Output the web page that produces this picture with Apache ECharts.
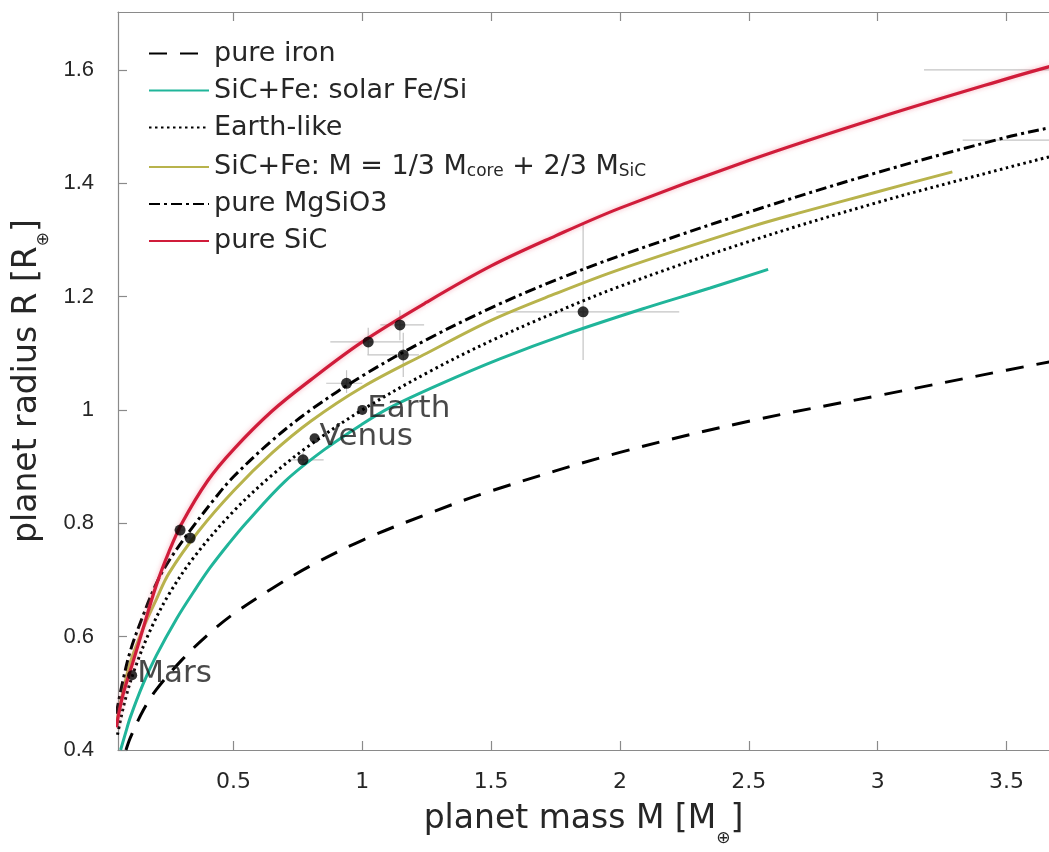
<!DOCTYPE html>
<html>
<head>
<meta charset="utf-8">
<script src="https://cdn.jsdelivr.net/npm/echarts@6/dist/echarts.min.js"></script>
<style>
html,body{margin:0;padding:0;background:#fff;}
#chart{width:1049px;height:852px;}
</style>
</head>
<body>
<div id="chart"></div>
<script>
// ---- data ----
const xTickValues = [0.5, 1, 1.5, 2, 2.5, 3, 3.5];
const yTickValues = [0.4, 0.6, 0.8, 1.0, 1.2, 1.4, 1.6];

const ironMass   = [0.083, 0.1, 0.15, 0.2, 0.3, 0.4, 0.5, 0.65, 0.8, 1.0, 1.25, 1.5, 2.0, 2.5, 3.0, 3.5, 3.67];
const ironRadius = [0.40, 0.422, 0.47, 0.506, 0.559, 0.603, 0.64, 0.685, 0.725, 0.77, 0.816, 0.857, 0.925, 0.98, 1.025, 1.07, 1.085];

const solarMass   = [0.062, 0.08, 0.1, 0.15, 0.2, 0.28, 0.35, 0.41, 0.48, 0.55, 0.7, 0.85, 1.0, 1.107, 1.3, 1.534, 1.8, 2.1, 2.35, 2.575];
const solarRadius = [0.40, 0.428, 0.458, 0.517, 0.566, 0.632, 0.682, 0.722, 0.763, 0.801, 0.874, 0.929, 0.975, 1.004, 1.045, 1.09, 1.135, 1.18, 1.215, 1.248];

const earthMass   = [0.05, 0.08, 0.12, 0.18, 0.25, 0.35, 0.5, 0.65, 0.8, 1.0, 1.25, 1.5, 1.75, 2.0, 2.5, 3.0, 3.5, 3.67];
const earthRadius = [0.427, 0.489, 0.547, 0.614, 0.675, 0.742, 0.821, 0.885, 0.939, 1.0, 1.065, 1.122, 1.172, 1.218, 1.297, 1.366, 1.427, 1.447];

const thirdMass   = [0.045, 0.07, 0.1, 0.15, 0.2, 0.25, 0.363, 0.5, 0.65, 0.8, 1.0, 1.25, 1.5, 1.75, 2.0, 2.5, 2.7, 3.0, 3.29];
const thirdRadius = [0.445, 0.50, 0.555, 0.615, 0.665, 0.712, 0.785, 0.857, 0.924, 0.98, 1.04, 1.10, 1.158, 1.205, 1.248, 1.322, 1.348, 1.385, 1.42];

const mgMass   = [0.045, 0.07, 0.1, 0.15, 0.2, 0.25, 0.33, 0.43, 0.5, 0.65, 0.8, 1.0, 1.25, 1.5, 1.75, 2.0, 2.5, 3.0, 3.5, 3.67];
const mgRadius = [0.464, 0.52, 0.575, 0.638, 0.693, 0.734, 0.786, 0.845, 0.882, 0.946, 1.0, 1.06, 1.124, 1.18, 1.229, 1.272, 1.349, 1.419, 1.481, 1.498];

const sicMass   = [0.045, 0.07, 0.11, 0.14, 0.2, 0.25, 0.3, 0.4, 0.5, 0.65, 0.8, 1.0, 1.25, 1.5, 1.75, 2.0, 2.5, 3.0, 3.5, 3.67];
const sicRadius = [0.44, 0.495, 0.555, 0.60, 0.69, 0.75, 0.80, 0.875, 0.93, 0.998, 1.053, 1.12, 1.19, 1.254, 1.307, 1.356, 1.44, 1.515, 1.584, 1.606];

const planetNames  = ['Mars', 'Venus', 'Earth'];
const planetMass   = [0.107, 0.815, 1.0];
const planetRadius = [0.532, 0.95, 1.0];

const exoMass    = [0.293, 0.332, 0.77, 0.939, 1.023, 1.146, 1.159, 1.857, 4.3, 4.5];
const exoRadius  = [0.788, 0.774, 0.912, 1.047, 1.12, 1.15, 1.097, 1.173, 1.60, 1.476];
const exoMassLo  = [0.27, 0.31, 0.72, 0.86, 0.876, 1.07, 1.02, 1.52, 3.18, 3.33];
const exoMassHi  = [0.31, 0.35, 0.85, 1.0, 1.16, 1.24, 1.22, 2.23, 5.4, 5.7];
const exoRadLo   = [0.775, 0.765, 0.90, 1.03, 1.097, 1.123, 1.058, 1.088, 1.55, 1.43];
const exoRadHi   = [0.80, 0.785, 0.925, 1.07, 1.145, 1.176, 1.136, 1.326, 1.65, 1.52];

const legendNames = ['pure iron', 'SiC+Fe: solar Fe/Si', 'Earth-like', 'SiC+Fe: M = 1/3 M_core + 2/3 M_SiC', 'pure MgSiO3', 'pure SiC'];

// ---- build ----
const zip = (a, b) => a.map((v, i) => [v, b[i]]);
const textColor = '#262626';
const FONT = 'DejaVu Sans';

const curves = [
  {name: legendNames[0], data: zip(ironMass, ironRadius), color: '#000', width: 3, type: [18, 13]},
  {name: legendNames[1], data: zip(solarMass, solarRadius), color: '#20B59A', width: 3, type: 'solid'},
  {name: legendNames[2], data: zip(earthMass, earthRadius), color: '#000', width: 3, type: [2.5, 3.5]},
  {name: legendNames[3], data: zip(thirdMass, thirdRadius), color: '#B8B34C', width: 3, type: 'solid'},
  {name: legendNames[4], data: zip(mgMass, mgRadius), color: '#000', width: 3, type: [11, 4, 3, 4]},
  {name: legendNames[5], data: zip(sicMass, sicRadius), color: '#D01C3A', width: 3.2, type: 'solid'}
];

const series = [];

series.push({
  type: 'custom',
  name: 'errors',
  clip: true,
  silent: true,
  z: 1,
  data: exoMass.map((m, i) => [m, exoRadius[i], exoMassLo[i], exoMassHi[i], exoRadLo[i], exoRadHi[i]]),
  encode: {x: 0, y: 1},
  renderItem: function (params, api) {
    const x = api.value(0), y = api.value(1);
    const a = api.coord([api.value(2), y]);
    const b = api.coord([api.value(3), y]);
    const c = api.coord([x, api.value(4)]);
    const d = api.coord([x, api.value(5)]);
    const st = {stroke: '#c4c4c4', lineWidth: 1.2};
    return {
      type: 'group',
      children: [
        {type: 'line', shape: {x1: a[0], y1: a[1], x2: b[0], y2: b[1]}, style: st},
        {type: 'line', shape: {x1: c[0], y1: c[1], x2: d[0], y2: d[1]}, style: st}
      ]
    };
  }
});

curves.forEach((c, i) => {
  series.push({
    type: 'line',
    name: c.name,
    data: c.data,
    smooth: 0.35,
    symbol: 'none',
    showSymbol: false,
    clip: true,
    z: 2 + i,
    color: c.color,
    lineStyle: {color: c.color, width: c.width, type: c.type,
      shadowColor: c.name === 'pure SiC' ? 'rgba(240,120,140,0.6)' : 'transparent',
      shadowBlur: c.name === 'pure SiC' ? 5 : 0},
    emphasis: {disabled: true}
  });
});

series.push({
  type: 'scatter',
  name: 'exo',
  data: zip(exoMass, exoRadius),
  symbol: 'circle',
  symbolSize: 11,
  itemStyle: {color: '#000'},
  clip: true,
  z: 10,
  silent: true
});

series.push({
  type: 'scatter',
  name: 'planets',
  data: planetMass.map((m, i) => ({value: [m, planetRadius[i]], name: planetNames[i]})),
  symbol: 'circle',
  symbolSize: 10,
  itemStyle: {color: '#000'},
  z: 11,
  silent: true,
  label: {
    show: true,
    position: 'right',
    distance: 0,
    offset: [0, -1],
    formatter: p => p.name,
    fontFamily: FONT,
    fontSize: 31,
    color: '#1a1a1a'
  }
});

const axisLineStyle = {color: '#8a8a8a', width: 1.2};

const option = {
  animation: false,
  backgroundColor: '#fff',
  grid: {left: 118, right: 0, top: 12, bottom: 102, containLabel: false},
  legend: {
    show: true,
    data: legendNames,
    orient: 'vertical',
    left: 148,
    top: 40,
    padding: 0,
    itemWidth: 60,
    itemHeight: 14,
    itemGap: 10,
    selectedMode: false,
    itemStyle: {opacity: 0},
    textStyle: {
      fontFamily: FONT,
      fontSize: 27,
      lineHeight: 26,
      color: textColor,
      rich: {
        sub: {fontFamily: FONT, fontSize: 17, color: textColor, lineHeight: 16, verticalAlign: 'bottom', padding: [12, 0, 0, 0]}
      }
    },
    formatter: function (name) {
      if (name.indexOf('M_core') >= 0) {
        return 'SiC+Fe: M = 1/3 M{sub|core} + 2/3 M{sub|SiC}';
      }
      return name;
    }
  },
  xAxis: [{
    type: 'value',
    position: 'bottom',
    min: 0.052,
    max: 3.665,
    name: 'planet mass M [M{sub|⊕}]',
    nameLocation: 'middle',
    nameGap: 42,
    nameTextStyle: {
      fontFamily: FONT,
      fontSize: 33,
      color: textColor,
      rich: {sub: {fontFamily: FONT, fontSize: 17, color: textColor, padding: [38, 0, 0, 0]}}
    },
    axisLine: {show: true, lineStyle: axisLineStyle},
    axisTick: {show: true, inside: true, length: 9, lineStyle: axisLineStyle, customValues: xTickValues},
    axisLabel: {show: true, margin: 21, fontFamily: FONT, fontSize: 22, color: textColor,
      customValues: xTickValues, formatter: v => String(v)},
    splitLine: {show: false}
  }, {
    type: 'value',
    position: 'top',
    min: 0.052,
    max: 3.665,
    axisLine: {show: true, lineStyle: axisLineStyle},
    axisTick: {show: true, inside: true, length: 9, lineStyle: axisLineStyle, customValues: xTickValues},
    axisLabel: {show: false},
    splitLine: {show: false}
  }],
  yAxis: {
    type: 'value',
    min: 0.4,
    max: 1.702,
    name: 'planet radius R [R{sub|⊕}]',
    nameLocation: 'middle',
    nameGap: 60,
    nameTextStyle: {
      fontFamily: FONT,
      fontSize: 33,
      color: textColor,
      rich: {sub: {fontFamily: FONT, fontSize: 17, color: textColor, padding: [34, 0, 0, 0]}}
    },
    axisLine: {show: true, lineStyle: axisLineStyle},
    axisTick: {show: true, inside: true, length: 9, lineStyle: axisLineStyle, customValues: yTickValues},
    axisLabel: {show: true, margin: 24, fontFamily: 'Liberation Sans', fontSize: 22, color: textColor,
      customValues: yTickValues, formatter: v => String(Math.round(v * 10) / 10)},
    splitLine: {show: false}
  },
  series: series
};

const chart = echarts.init(document.getElementById('chart'), null, {renderer: 'canvas'});
chart.setOption(option);
</script>
</body>
</html>
